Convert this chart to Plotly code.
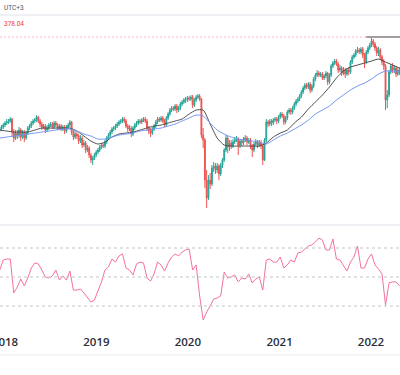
import pandas as pd
import plotly.graph_objects as go

# ---------------- data (weekly bars) ----------------
FIRST_WEEK = "2017-12-11"
PRIOR_CLOSE = 285

CLOSE = [
    286, 288, 290, 292, 293, 294, 296, 283, 277, 282,
    280, 285, 278, 283, 277, 282, 287, 289, 292, 294,
    295, 298, 294, 291, 288, 289, 285, 287, 290, 291,
    288, 292, 290, 287, 289, 286, 288, 284, 288, 290,
    293, 283, 278, 281, 279, 274, 277, 270, 272, 265,
    267, 260, 255, 257, 260, 263, 265, 268, 270, 269,
    273, 277, 280, 283, 286, 287, 289, 291, 293, 294,
    296, 294, 289, 286, 287, 281, 287, 290, 292, 294,
    293, 295, 296, 294, 287, 284, 282, 286, 289, 293,
    296, 295, 297, 294, 290, 297, 301, 305, 307, 306,
    309, 305, 307, 311, 313, 315, 316, 317, 316, 318,
    310, 315, 318, 319, 316, 280, 275, 235, 217, 235,
    231, 247, 249, 245, 249, 241, 250, 255, 265, 277,
    268, 272, 269, 273, 275, 276, 270, 274, 272, 275,
    277, 273, 275, 269, 265, 271, 273, 270, 272, 269,
    255, 275, 293, 291, 294, 292, 295, 296, 294, 298,
    301, 299, 293, 297, 303, 305, 303, 307, 311, 314,
    316, 319, 323, 327, 330, 328, 331, 325, 329, 336,
    340, 342, 340, 341, 337, 339, 342, 333, 340, 349,
    352, 354, 351, 345, 347, 342, 345, 341, 345, 343,
    353, 358, 360, 364, 365, 363, 366, 360, 353, 363,
    367, 370, 374, 371, 367, 362, 365, 358, 353, 349,
    315, 320, 343, 349, 345, 347, 341, 345, 343,
]

HIGH = [
    289, 290, 292, 294, 296, 296, 298, 297, 286, 285,
    285, 288, 287, 285, 285, 284, 289, 291, 294, 296,
    297, 300, 299, 296, 293, 291, 291, 290, 292, 293,
    293, 294, 294, 292, 291, 291, 290, 290, 290, 292,
    295, 294, 285, 284, 283, 281, 280, 279, 275, 274,
    270, 269, 262, 259, 262, 265, 267, 270, 272, 272,
    275, 279, 282, 285, 288, 289, 291, 293, 295, 296,
    298, 298, 296, 291, 290, 289, 289, 292, 294, 296,
    296, 297, 298, 298, 296, 289, 287, 288, 291, 295,
    298, 298, 299, 299, 296, 299, 303, 307, 309, 309,
    311, 311, 309, 313, 315, 317, 318, 319, 319, 320,
    320, 317, 320, 321, 321, 317, 287, 277, 245, 240,
    242, 250, 253, 252, 252, 251, 252, 257, 267, 280,
    279, 275, 275, 276, 278, 279, 278, 276, 276, 278,
    280, 279, 277, 277, 271, 273, 276, 275, 275, 275,
    271, 277, 296, 295, 296, 296, 297, 298, 298, 300,
    303, 303, 301, 299, 305, 307, 307, 309, 313, 316,
    318, 321, 325, 329, 332, 332, 333, 333, 331, 338,
    342, 345, 344, 343, 343, 341, 344, 343, 342, 351,
    354, 356, 356, 353, 350, 349, 348, 347, 347, 348,
    355, 360, 362, 366, 368, 367, 368, 368, 362, 365,
    369, 372, 378, 376, 373, 369, 368, 367, 360, 356,
    351, 325, 345, 351, 352, 350, 349, 347, 348,
]

LOW = [
    283, 284, 286, 288, 290, 291, 292, 278, 273, 275,
    276, 277, 274, 276, 273, 275, 280, 285, 287, 290,
    292, 293, 292, 288, 285, 286, 282, 283, 285, 288,
    286, 286, 288, 285, 285, 284, 284, 281, 282, 286,
    288, 280, 275, 276, 276, 271, 272, 267, 268, 262,
    263, 257, 252, 250, 255, 258, 261, 263, 266, 267,
    267, 271, 275, 278, 281, 284, 285, 287, 289, 291,
    292, 292, 287, 283, 284, 278, 279, 285, 288, 290,
    291, 291, 293, 292, 284, 281, 278, 280, 284, 287,
    291, 293, 293, 292, 288, 288, 295, 299, 303, 304,
    304, 302, 303, 305, 309, 311, 312, 313, 314, 314,
    307, 308, 313, 316, 314, 277, 267, 227, 207, 215,
    226, 229, 243, 241, 242, 235, 239, 247, 253, 263,
    262, 264, 266, 267, 271, 273, 260, 267, 269, 270,
    273, 270, 271, 266, 258, 263, 269, 267, 268, 266,
    250, 254, 273, 288, 289, 289, 290, 293, 291, 292,
    296, 297, 290, 291, 295, 301, 300, 301, 305, 309,
    312, 314, 317, 321, 325, 326, 326, 322, 323, 327,
    334, 338, 338, 338, 335, 335, 337, 330, 331, 338,
    347, 350, 349, 342, 343, 339, 340, 337, 339, 340,
    341, 351, 356, 358, 362, 361, 361, 357, 347, 351,
    361, 365, 368, 368, 364, 359, 359, 355, 350, 345,
    305, 307, 318, 341, 342, 342, 338, 339, 340,
]

# moving averages, one value every 4 weeks
MA_FAST = [
    285, 284, 283, 283, 283, 285, 287, 287, 287, 287,
    287, 284, 279, 274, 271, 273, 278, 281, 282, 283,
    285, 287, 289, 290, 292, 294, 296, 301, 305, 305,
    291, 277, 270, 269, 269, 269, 269, 269, 272, 278,
    282, 285, 292, 298, 306, 313, 320, 328, 337, 344,
    348, 350, 352, 354, 356, 353, 350, 347,
]
MA_SLOW = [
    277, 278, 279, 280, 281, 282, 283, 284, 285, 286,
    286, 284, 281, 279, 276, 276, 278, 280, 281, 282,
    284, 285, 286, 287, 289, 291, 294, 297, 300, 299,
    292, 285, 281, 278, 276, 275, 274, 273, 271, 275,
    279, 282, 286, 290, 295, 301, 305, 309, 315, 320,
    325, 329, 332, 336, 341, 344, 344, 343,
]

# RSI, one value every 2 weeks
RSI = [
    54.8, 61.7, 62.4, 62.4, 39.0, 43.1, 48.6, 43.8, 49.3, 56.2,
    59.7, 59.0, 54.8, 50.0, 49.3, 50.7, 54.8, 47.9, 50.7, 47.9,
    54.1, 41.0, 41.0, 41.7, 39.0, 35.5, 32.8, 34.1, 39.7, 46.6,
    54.8, 56.9, 62.4, 60.3, 64.5, 65.9, 56.2, 54.8, 51.4, 59.0,
    60.3, 59.7, 49.3, 47.2, 52.1, 60.3, 58.3, 54.1, 59.7, 63.8,
    65.9, 64.5, 67.2, 68.6, 69.3, 54.8, 58.3, 36.9, 20.3, 25.9,
    30.0, 34.8, 35.5, 36.9, 53.4, 49.3, 50.0, 51.4, 46.6, 49.3,
    48.6, 52.1, 45.9, 48.6, 50.0, 41.0, 61.7, 62.4, 60.3, 60.3,
    63.8, 56.2, 58.3, 61.7, 60.3, 66.6, 67.2, 69.3, 71.4, 72.1,
    74.1, 76.9, 75.5, 68.6, 68.6, 76.2, 62.4, 61.7, 57.6, 54.1,
    60.3, 63.8, 71.4, 56.2, 56.2, 62.4, 65.9, 58.3, 55.5, 52.1,
    30.7, 45.9, 46.6, 46.6, 43.8,
]
RSI_LEVELS = [70, 50, 30]

YEAR_TICKS = ["2018-01-01", "2019-01-01", "2020-01-01", "2021-01-01", "2022-01-01"]
YEAR_LABELS = ["2018", "2019", "2020", "2021", "2022"]

HIGH_MARK = 378.04
HIGH_MARK_START = "2021-12-13"
HEADER_TZ = "UTC+3"
HEADER_PRICE = "378.04"

# ---------------- derived ----------------
DATES = pd.date_range(FIRST_WEEK, periods=len(CLOSE), freq="7D")
OPEN = [PRIOR_CLOSE] + CLOSE[:-1]

px_per_day = 366 / 1461.0
x_left = pd.Timestamp("2018-01-01") - pd.Timedelta(days=5 / px_per_day)
x_right = x_left + pd.Timedelta(days=400 / px_per_day)
XR = [x_left, x_right]

GREEN = "#26a69a"
RED = "#ef5350"

fig = go.Figure()
fig.add_trace(go.Candlestick(
    x=DATES, open=OPEN, high=HIGH, low=LOW, close=CLOSE,
    increasing=dict(line=dict(color=GREEN, width=1), fillcolor=GREEN),
    decreasing=dict(line=dict(color=RED, width=1), fillcolor=RED),
    whiskerwidth=0, xaxis="x", yaxis="y", showlegend=False, hoverinfo="skip",
))
fig.add_trace(go.Scatter(
    x=DATES[::4], y=MA_FAST, mode="lines",
    line=dict(color="#4d4d4d", width=1, shape="spline", smoothing=0.6),
    xaxis="x", yaxis="y", showlegend=False, hoverinfo="skip",
))
fig.add_trace(go.Scatter(
    x=DATES[::4], y=MA_SLOW, mode="lines",
    line=dict(color="#7196f5", width=1, shape="spline", smoothing=0.6),
    xaxis="x", yaxis="y", showlegend=False, hoverinfo="skip",
))
fig.add_trace(go.Scatter(
    x=DATES[::2], y=RSI, mode="lines",
    line=dict(color="#f5729b", width=1),
    xaxis="x2", yaxis="y2", showlegend=False, hoverinfo="skip",
))

PLOT_H = 330.0


def pap(y_px):
    return (PLOT_H - y_px) / PLOT_H


shapes = []
# pane separators
for ypx, col, w in [(15, "#eef0f4", 2), (225, "#eef0f4", 2), (355, "#e6ebec", 1)]:
    shapes.append(dict(type="line", xref="paper", yref="paper", x0=0, x1=1,
                       y0=pap(ypx), y1=pap(ypx), line=dict(color=col, width=w)))
# high-price dashed line
shapes.append(dict(type="line", xref="paper", yref="y", x0=0, x1=1,
                   y0=HIGH_MARK, y1=HIGH_MARK,
                   line=dict(color="rgba(242,54,69,0.35)", width=1, dash="2px,2px")))
shapes.append(dict(type="line", xref="x", yref="y", x0=HIGH_MARK_START, x1=x_right,
                   y0=HIGH_MARK, y1=HIGH_MARK,
                   line=dict(color="#a39d9d", width=2)))
for lvl in RSI_LEVELS:
    shapes.append(dict(type="line", xref="paper", yref="y2", x0=0, x1=1,
                       y0=lvl, y1=lvl,
                       line=dict(color="#c3c5ca", width=1, dash="3px,3px")))

annotations = [
    dict(text=HEADER_TZ, xref="paper", yref="paper", x=1.5 / 400, y=pap(8),
         xanchor="left", yanchor="middle", showarrow=False,
         font=dict(family="Roboto", size=6.5, color="#50535e")),
    dict(text=HEADER_PRICE, xref="paper", yref="paper", x=1.5 / 400, y=pap(24),
         xanchor="left", yanchor="middle", showarrow=False,
         font=dict(family="Roboto", size=6.5, color="#f23645")),
]

fig.update_layout(
    width=400, height=375,
    margin=dict(l=0, r=0, t=0, b=45, pad=0),
    paper_bgcolor="white", plot_bgcolor="white",
    showlegend=False,
    modebar=dict(bgcolor="rgba(0,0,0,0)", color="rgba(0,0,0,0)",
                 activecolor="rgba(0,0,0,0)"),
    xaxis=dict(domain=[0, 1], range=XR, anchor="y", type="date",
               showticklabels=False, showgrid=False, zeroline=False,
               showline=False, ticks="", rangeslider=dict(visible=False)),
    yaxis=dict(domain=[(PLOT_H - 222) / PLOT_H, (PLOT_H - 16) / PLOT_H],
               range=[193.04, 399.04], visible=False, fixedrange=True),
    xaxis2=dict(domain=[0, 1], range=XR, anchor="y2", type="date",
                tickmode="array", tickvals=YEAR_TICKS, ticktext=YEAR_LABELS,
                showgrid=False, zeroline=False, showline=False, ticks="",
                ticklabelstandoff=3, ticklabeloverflow="allow", automargin=False,
                tickfont=dict(family="Open Sans", size=11.5, color="#2a2e39", weight=600)),
    yaxis2=dict(domain=[0, (PLOT_H - 227) / PLOT_H],
                range=[50 - 53 / 1.45, 50 + 50 / 1.45], visible=False, fixedrange=True),
    shapes=shapes,
    annotations=annotations,
)

fig.write_html("out.html", config={"displaylogo": False},
               post_script="document.body.style.margin='0';")
